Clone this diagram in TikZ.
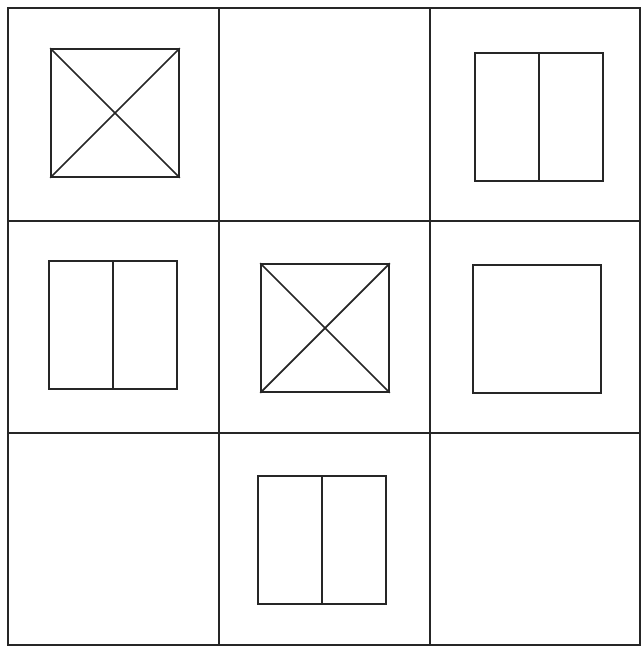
\documentclass[tikz,border=0pt]{standalone}
\begin{document}
\begin{tikzpicture}[x=0.02cm, y=-0.02cm,
    grid line/.style={draw=black!85, line width=1pt},
    box/.style={draw=black!85, line width=1pt, minimum size=2.56cm, inner sep=0pt, rectangle}]
  \useasboundingbox (0,0) rectangle (642,650);
  % frame and cell lines
  \draw[grid line] (8,8) rectangle (640,645);
  \draw[grid line] (219,8) -- (219,645);
  \draw[grid line] (430,8) -- (430,645);
  \draw[grid line] (8,221) -- (640,221);
  \draw[grid line] (8,433) -- (640,433);
  % squares
  \draw
    (115,113) node[box] (crossA){}
    (539,117) node[box] (splitA){}
    (113,325) node[box] (splitB){}
    (325,328) node[box] (crossB){}
    (537,329) node[box] (plain){}
    (322,540) node[box] (splitC){};
  \begin{scope}[draw=black!85, line width=1pt]
    \draw (crossA.north west) to (crossA.south east);
    \draw (crossA.south west) to (crossA.north east);
    \draw (crossB.north west) to (crossB.south east);
    \draw (crossB.south west) to (crossB.north east);
    \draw (splitA.north) to (splitA.south);
    \draw (splitB.north) to (splitB.south);
    \draw (splitC.north) to (splitC.south);
  \end{scope}
\end{tikzpicture}
\end{document}
